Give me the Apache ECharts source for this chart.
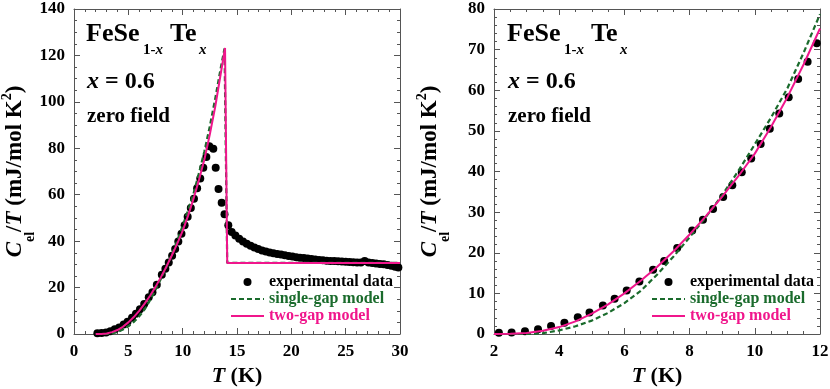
<!DOCTYPE html>
<html>
<head>
<meta charset="utf-8">
<script src="https://cdn.jsdelivr.net/npm/echarts@6/dist/echarts.min.js"></script>
<style>
html, body { margin: 0; padding: 0; background: #fff; }
#main { width: 830px; height: 389px; }
</style>
</head>
<body>
<div id="main"></div>
<script>
// measured specific heat, C_el/T (mJ/mol K^2) vs T (K)
const dataT = [2.15, 2.54, 2.95, 3.35, 3.75, 4.16, 4.57, 4.93, 5.34, 5.70, 6.07, 6.46, 6.88, 7.22, 7.62,
  8.08, 8.41, 8.72, 9.03, 9.31, 9.60, 9.89, 10.18, 10.46, 10.75, 11.04, 11.33, 11.62, 11.90, 12.18,
  12.45, 12.82, 13.04, 13.30, 13.59, 13.85, 14.20, 14.51, 14.85, 15.20, 15.55, 15.90, 16.25, 16.60,
  16.95, 17.30, 17.65, 18.00, 18.35, 18.70, 19.05, 19.40, 19.75, 20.10, 20.45, 20.80, 21.15, 21.50,
  21.85, 22.20, 22.55, 22.90, 23.25, 23.60, 23.95, 24.30, 24.65, 25.00, 25.35, 25.70, 26.05, 26.40,
  26.75, 27.10, 27.45, 27.80, 28.15, 28.50, 28.85, 29.20, 29.55, 29.85];
const dataC = [0.3, 0.4, 0.7, 1.2, 2.0, 2.8, 4.1, 5.3, 7.0, 8.7, 10.7, 12.9, 15.8, 18.0, 21.2,
  25.5, 28.1, 30.8, 33.7, 36.6, 39.8, 43.2, 46.8, 50.5, 54.3, 58.3, 62.8, 67.0, 71.6, 76.2,
  80.9, 79.8, 71.6, 62.5, 56.5, 51.6, 46.8, 43.9, 42.4, 41.0, 39.9, 38.9, 38.0, 37.3,
  36.6, 36.0, 35.5, 35.1, 34.8, 34.5, 34.2, 33.9, 33.6, 33.4, 33.1, 32.9, 32.7, 32.5,
  32.3, 32.1, 31.9, 31.8, 31.6, 31.5, 31.4, 31.3, 31.2, 31.1, 31.0, 30.9, 30.8, 30.8,
  31.5, 30.8, 30.6, 30.4, 30.2, 30.0, 29.7, 29.4, 29.0, 28.7];

// single-gap model
const singleT = [2, 3.2, 3.5, 4, 4.5, 5, 5.5, 6, 6.5, 7, 7.5, 8, 8.5, 9, 9.5, 10, 10.5, 11, 11.5, 12,
  12.5, 13, 13.5, 13.85, 14.1, 30];
const singleC = [0, 0, 0.2, 0.9, 1.9, 3.3, 5.2, 7.6, 10.6, 14.6, 19.0, 23.8, 28.8, 34.2, 40.2, 46.7, 53.3, 60.5, 69.3, 78.7,
  89.5, 101.5, 114.5, 123.0, 30.6, 30.6];

// two-gap model
const twoT = [2, 2.5, 3, 3.5, 4, 4.5, 5, 5.5, 6, 6.5, 7, 7.5, 8, 8.5, 9, 9.5, 10, 10.5, 11, 11.5, 12,
  12.5, 13, 13.5, 13.9, 14.1, 30];
const twoC = [0, 0.05, 0.25, 0.8, 1.7, 3.1, 5.0, 7.3, 10.0, 13.1, 16.5, 20.3, 24.5, 29.0, 33.8, 38.9, 44.4, 51.0, 58.3, 66.4, 75.2,
  86.0, 98.0, 112.0, 123.2, 30.6, 30.6];

// axis ranges (tick labels follow from these)
const leftX = { min: 0, max: 30, interval: 5, minor: 5 };
const leftY = { min: 0, max: 140, interval: 20, minor: 4 };
const rightX = { min: 2, max: 12, interval: 2, minor: 4 };
const rightY = { min: 0, max: 80, interval: 10, minor: 5 };

const FONT = "'Liberation Serif', 'Times New Roman', serif";
const PINK = '#f0168c';
const GREEN = '#1a6b2c';
const AXIS = '#555';

const pairs = (xs, ys, xmax) => xs.map((x, i) => [x, ys[i]]).filter(p => p[0] <= xmax);

function axis(r, grid, pos, labels, extra) {
  return Object.assign({
    type: 'value', gridIndex: grid, position: pos,
    min: r.min, max: r.max, interval: r.interval,
    nameMoveOverlap: false,
    axisLine: { show: true, onZero: false, lineStyle: { color: AXIS, width: 1 } },
    axisTick: { show: true, inside: true, length: 6, lineStyle: { color: AXIS } },
    minorTick: { show: true, splitNumber: r.minor, length: 3, lineStyle: { color: AXIS } },
    splitLine: { show: false },
    axisLabel: {
      show: labels, margin: 9, color: '#000', fontFamily: FONT, fontWeight: 'bold', fontSize: 17,
      showMinLabel: true, showMaxLabel: true
    }
  }, extra || {});
}

const nameStyle = {
  color: '#000', fontFamily: FONT, fontWeight: 'bold', fontSize: 23,
  rich: {
    i: { fontFamily: FONT, fontWeight: 'bold', fontStyle: 'italic', fontSize: 23, lineHeight: 44, color: '#000' },
    n: { fontFamily: FONT, fontWeight: 'bold', fontSize: 23, lineHeight: 44, color: '#000' },
    sub: { fontFamily: FONT, fontWeight: 'bold', fontSize: 14, lineHeight: 14, verticalAlign: 'bottom', color: '#000' },
    sup: { fontFamily: FONT, fontWeight: 'bold', fontSize: 14, lineHeight: 14, verticalAlign: 'top', padding: [7, 0, 0, 0], color: '#000' }
  }
};
const xNameStyle = {
  color: '#000', fontFamily: FONT, fontWeight: 'bold', fontSize: 22,
  rich: {
    i: { fontFamily: FONT, fontWeight: 'bold', fontStyle: 'italic', fontSize: 22, lineHeight: 22, color: '#000' },
    n: { fontFamily: FONT, fontWeight: 'bold', fontSize: 22, lineHeight: 22, color: '#000' }
  }
};
const yName = '{i|C}{sub|el}{n|/}{i|T}{n| (mJ/mol K}{sup|2}{n|)}';
const xName = '{i|T}{n| (K)}';

const xNameOpts = { name: xName, nameLocation: 'middle', nameGap: 31, nameTextStyle: xNameStyle };
function yNameOpts(gap) {
  return { name: yName, nameLocation: 'middle', nameRotate: 90, nameGap: gap, nameTextStyle: nameStyle };
}

const legendItems = [
  { name: 'experimental data', textStyle: { color: '#000' } },
  { name: 'single-gap model', textStyle: { color: GREEN }, itemStyle: { opacity: 0 } },
  { name: 'two-gap model', textStyle: { color: PINK }, itemStyle: { opacity: 0 } }
];
function legend(left) {
  return {
    left: left, top: 274, orient: 'vertical', padding: 0, itemGap: 1,
    itemWidth: 33, itemHeight: 8, selectedMode: false,
    textStyle: { fontFamily: FONT, fontWeight: 'bold', fontSize: 16 },
    data: legendItems
  };
}

// panel annotation: FeSe_{1-x}Te_x, x = 0.6, zero field
function labelText(left) {
  const big = { fontFamily: FONT, fontWeight: 'bold', fontSize: 26, fill: '#000', verticalAlign: 'middle' };
  const subRich = {
    n: { fontFamily: FONT, fontWeight: 'bold', fontSize: 15, fill: '#000' },
    i: { fontFamily: FONT, fontWeight: 'bold', fontStyle: 'italic', fontSize: 15, fill: '#000' }
  };
  return [
    { type: 'text', style: Object.assign({ text: 'FeSe', x: left, y: 34 }, big) },
    { type: 'text', style: { text: '{n|1-}{i|x}', x: left + 57, y: 50, verticalAlign: 'middle', rich: subRich } },
    { type: 'text', style: Object.assign({ text: 'Te', x: left + 84, y: 34 }, big) },
    { type: 'text', style: { text: '{i|x}', x: left + 113, y: 50, verticalAlign: 'middle', rich: subRich } },
    {
      type: 'text', style: {
        text: '{i|x}{n| = 0.6}', x: left + 1, y: 82, verticalAlign: 'middle',
        rich: {
          i: { fontFamily: FONT, fontWeight: 'bold', fontStyle: 'italic', fontSize: 24, fill: '#000' },
          n: { fontFamily: FONT, fontWeight: 'bold', fontSize: 24, fill: '#000' }
        }
      }
    },
    {
      type: 'text', style: {
        text: 'zero field', x: left + 1, y: 117, verticalAlign: 'middle',
        fontFamily: FONT, fontWeight: 'bold', fontSize: 21, fill: '#000'
      }
    }
  ];
}

function seriesFor(gi, xmax) {
  return [
    {
      name: 'single-gap model', type: 'line', xAxisIndex: gi * 2, yAxisIndex: gi * 2,
      data: pairs(singleT, singleC, xmax), symbol: 'none', clip: true, animation: false,
      lineStyle: { color: GREEN, width: 2.2, type: [5, 3] }, itemStyle: { color: GREEN }
    },
    {
      name: 'two-gap model', type: 'line', xAxisIndex: gi * 2, yAxisIndex: gi * 2,
      data: pairs(twoT, twoC, xmax), symbol: 'none', clip: true, animation: false,
      lineStyle: { color: PINK, width: 2 }, itemStyle: { color: PINK }
    },
    {
      name: 'experimental data', type: 'scatter', xAxisIndex: gi * 2, yAxisIndex: gi * 2,
      data: pairs(dataT, dataC, xmax), symbol: 'circle', symbolSize: 8, clip: true, animation: false,
      itemStyle: { color: '#000', opacity: 1 }
    }
  ];
}

const chart = echarts.init(document.getElementById('main'));
chart.setOption({
  backgroundColor: '#fff',
  animation: false,
  grid: [
    { left: 74, top: 9, width: 326, height: 325, outerBoundsMode: 'none', containLabel: false },
    { left: 494, top: 9, width: 326, height: 325, outerBoundsMode: 'none', containLabel: false }
  ],
  xAxis: [
    axis(leftX, 0, 'bottom', true, xNameOpts),
    axis(leftX, 0, 'top', false),
    axis(rightX, 1, 'bottom', true, xNameOpts),
    axis(rightX, 1, 'top', false)
  ],
  yAxis: [
    axis(leftY, 0, 'left', true, yNameOpts(37)),
    axis(leftY, 0, 'right', false),
    axis(rightY, 1, 'left', true, yNameOpts(42)),
    axis(rightY, 1, 'right', false)
  ],
  legend: [legend(230), legend(651)],
  graphic: labelText(86).concat(labelText(507)),
  series: seriesFor(0, 30).concat(seriesFor(1, 12))
});
</script>
</body>
</html>
